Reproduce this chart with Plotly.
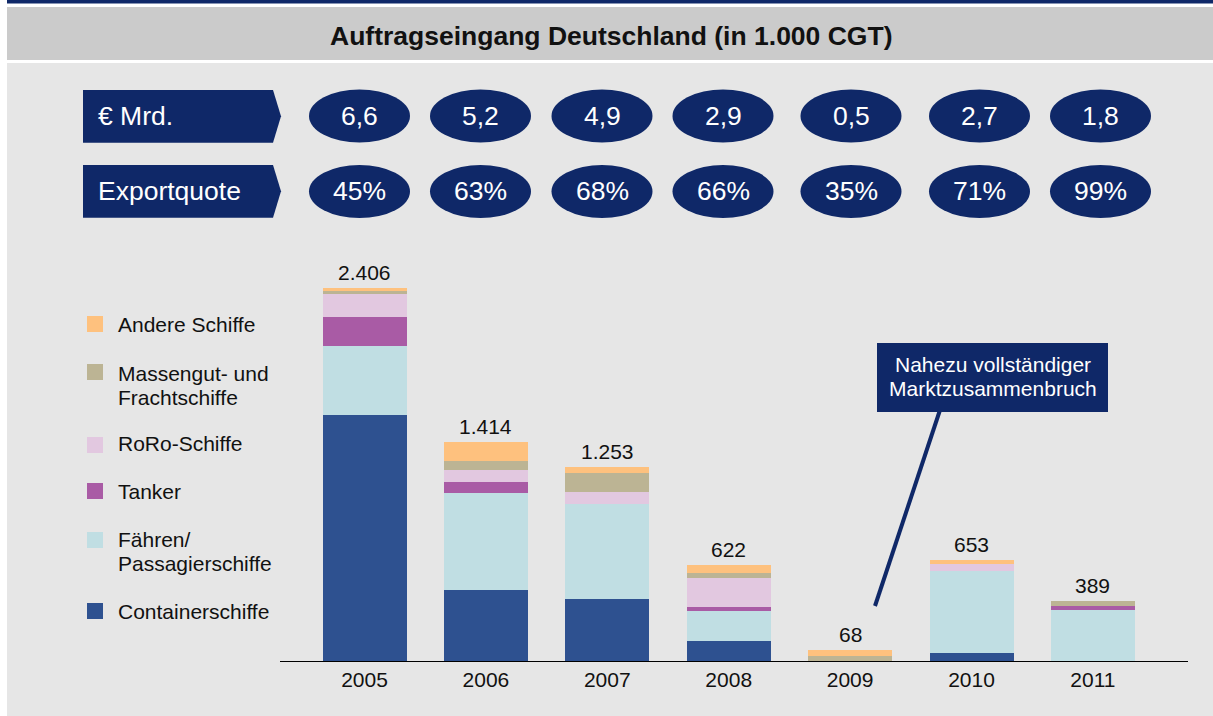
import plotly.graph_objects as go

W, H = 1213, 716

years = ["2005", "2006", "2007", "2008", "2009", "2010", "2011"]
container = [1587, 458, 398, 130, 0, 52, 0]
ferry = [445, 625, 613, 193, 0, 527, 330]
tanker = [187, 70, 0, 27, 0, 0, 28]
roro = [148, 76, 78, 187, 0, 46, 0]
bulk = [19, 63, 124, 28, 35, 0, 31]
other = [20, 122, 40, 57, 33, 28, 0]
totals = [2406, 1414, 1253, 622, 68, 653, 389]
total_labels = ["2.406", "1.414", "1.253", "622", "68", "653", "389"]
eur_mrd = ["6,6", "5,2", "4,9", "2,9", "0,5", "2,7", "1,8"]
exportquote = ["45%", "63%", "68%", "66%", "35%", "71%", "99%"]

series = [
    ("Containerschiffe", container, "#2e5190"),
    ("Fähren/<br>Passagierschiffe", ferry, "#c0dee3"),
    ("Tanker", tanker, "#a95ba5"),
    ("RoRo-Schiffe", roro, "#e2c8e0"),
    ("Massengut- und<br>Frachtschiffe", bulk, "#bcb494"),
    ("Andere Schiffe", other, "#fec17e"),
]

NAVY = "#0f2868"
FONT = "Liberation Sans, Arial, sans-serif"

def px(x):
    return x / W

def py(y):
    return 1 - y / H

# axis geometry (pixels)
x_center0, x_step = 364.5, 121.4
ax_left, ax_right = 280, 1188
base_y, top_y = 661, 250
cgt_per_px = 6.45

xs = list(range(len(years)))
fig = go.Figure()
for name, vals, col in series:
    fig.add_trace(go.Bar(x=xs, y=vals, name=name, marker=dict(color=col, line=dict(width=0)),
                         width=84 / x_step, showlegend=False, hoverinfo="skip"))

fig.update_layout(
    barmode="stack",
    width=W, height=H,
    margin=dict(l=0, r=0, t=0, b=0, autoexpand=False),
    paper_bgcolor="white",
    plot_bgcolor="rgba(0,0,0,0)",
    font=dict(family=FONT, color="#111111"),
    xaxis=dict(
        domain=[px(ax_left), px(ax_right)],
        range=[(ax_left - x_center0) / x_step, (ax_right - x_center0) / x_step],
        tickvals=xs, ticktext=years, tickfont=dict(size=21, color="#111111"),
        showline=True, linecolor="black", linewidth=1, showgrid=False, zeroline=False,
        ticks="", fixedrange=True, automargin=False,
    ),
    yaxis=dict(
        domain=[py(base_y), py(top_y)],
        range=[0, (base_y - top_y) * cgt_per_px],
        visible=False, showgrid=False, zeroline=False, fixedrange=True,
    ),
)

shapes = []
# background panels
shapes.append(dict(type="rect", xref="paper", yref="paper", x0=px(7), x1=1, y0=py(3.5), y1=1,
                   fillcolor=NAVY, line=dict(width=0), layer="below"))
shapes.append(dict(type="rect", xref="paper", yref="paper", x0=px(7), x1=1, y0=py(60), y1=py(7),
                   fillcolor="#cbcbcb", line=dict(width=0), layer="below"))
shapes.append(dict(type="rect", xref="paper", yref="paper", x0=px(7), x1=1, y0=0, y1=py(63),
                   fillcolor="#e6e6e6", line=dict(width=0), layer="below"))

annotations = []

def txt(text, x, y, size, color="#111111", xanchor="center", xref="paper", yref="paper",
        yanchor="middle", yshift=0):
    annotations.append(dict(text=text, x=x, y=y, xref=xref, yref=yref, xanchor=xanchor,
                            yanchor=yanchor, yshift=yshift, showarrow=False,
                            font=dict(size=size, color=color, family=FONT)))

txt("<b>Auftragseingang Deutschland (in 1.000 CGT)</b>", px(611), py(36), 26.5)

# row badges (pentagons)
for label, top, bot in [("€ Mrd.", 90, 142.7), ("Exportquote", 165, 217.7)]:
    mid = (top + bot) / 2
    path = (f"M {px(83)},{py(top)} L {px(273)},{py(top)} L {px(281)},{py(mid)} "
            f"L {px(273)},{py(bot)} L {px(83)},{py(bot)} Z")
    shapes.append(dict(type="path", xref="paper", yref="paper", path=path,
                       fillcolor=NAVY, line=dict(width=0)))
    txt(label, px(96), py(mid), 26.5, color="white", xanchor="left")

# ellipses
ell_centers = [359.5, 480.5, 602, 723, 851, 979.5, 1100.5]
for row_vals, top, bot in [(eur_mrd, 89.5, 142.5), (exportquote, 165, 218)]:
    mid = (top + bot) / 2
    for cx, v in zip(ell_centers, row_vals):
        shapes.append(dict(type="circle", xref="paper", yref="paper",
                           x0=px(cx - 50.5), x1=px(cx + 50.5), y0=py(bot), y1=py(top),
                           fillcolor=NAVY, line=dict(width=0)))
        txt(v, px(cx), py(mid), 26.5, color="white")

# totals above bars
for i, (t, lab) in enumerate(zip(totals, total_labels)):
    txt(lab, i, t, 21, xref="x", yref="y", yanchor="bottom", yshift=2)

# manual legend
legend_items = [
    ("Andere Schiffe", "#fec17e", 324, [324]),
    ("Massengut- und|Frachtschiffe", "#bcb494", 372, [373, 397]),
    ("RoRo-Schiffe", "#e2c8e0", 445, [444]),
    ("Tanker", "#a95ba5", 491, [491]),
    ("Fähren/|Passagierschiffe", "#c0dee3", 540, [539, 563]),
    ("Containerschiffe", "#2e5190", 611, [611]),
]
for text, col, sq_y, line_ys in legend_items:
    shapes.append(dict(type="rect", xref="paper", yref="paper", x0=px(87), x1=px(103),
                       y0=py(sq_y + 8), y1=py(sq_y - 8), fillcolor=col, line=dict(width=0)))
    for t, ly in zip(text.split("|"), line_ys):
        txt(t, px(116), py(ly), 21, xanchor="left")

# callout box
shapes.append(dict(type="line", xref="paper", yref="paper", x0=px(940), y0=py(410), x1=px(875), y1=py(606),
                   line=dict(color=NAVY, width=4)))
shapes.append(dict(type="rect", xref="paper", yref="paper", x0=px(877), x1=px(1108), y0=py(412), y1=py(343),
                   fillcolor=NAVY, line=dict(width=0)))
for t, ly in [("Nahezu vollständiger", 364), ("Marktzusammenbruch", 388)]:
    txt(t, px(992.5), py(ly), 21, color="white")

fig.update_layout(shapes=shapes, annotations=annotations)
fig.write_html("out.html", config={"displayModeBar": False},
               post_script="document.body.style.margin='0';document.body.style.overflow='hidden';")
